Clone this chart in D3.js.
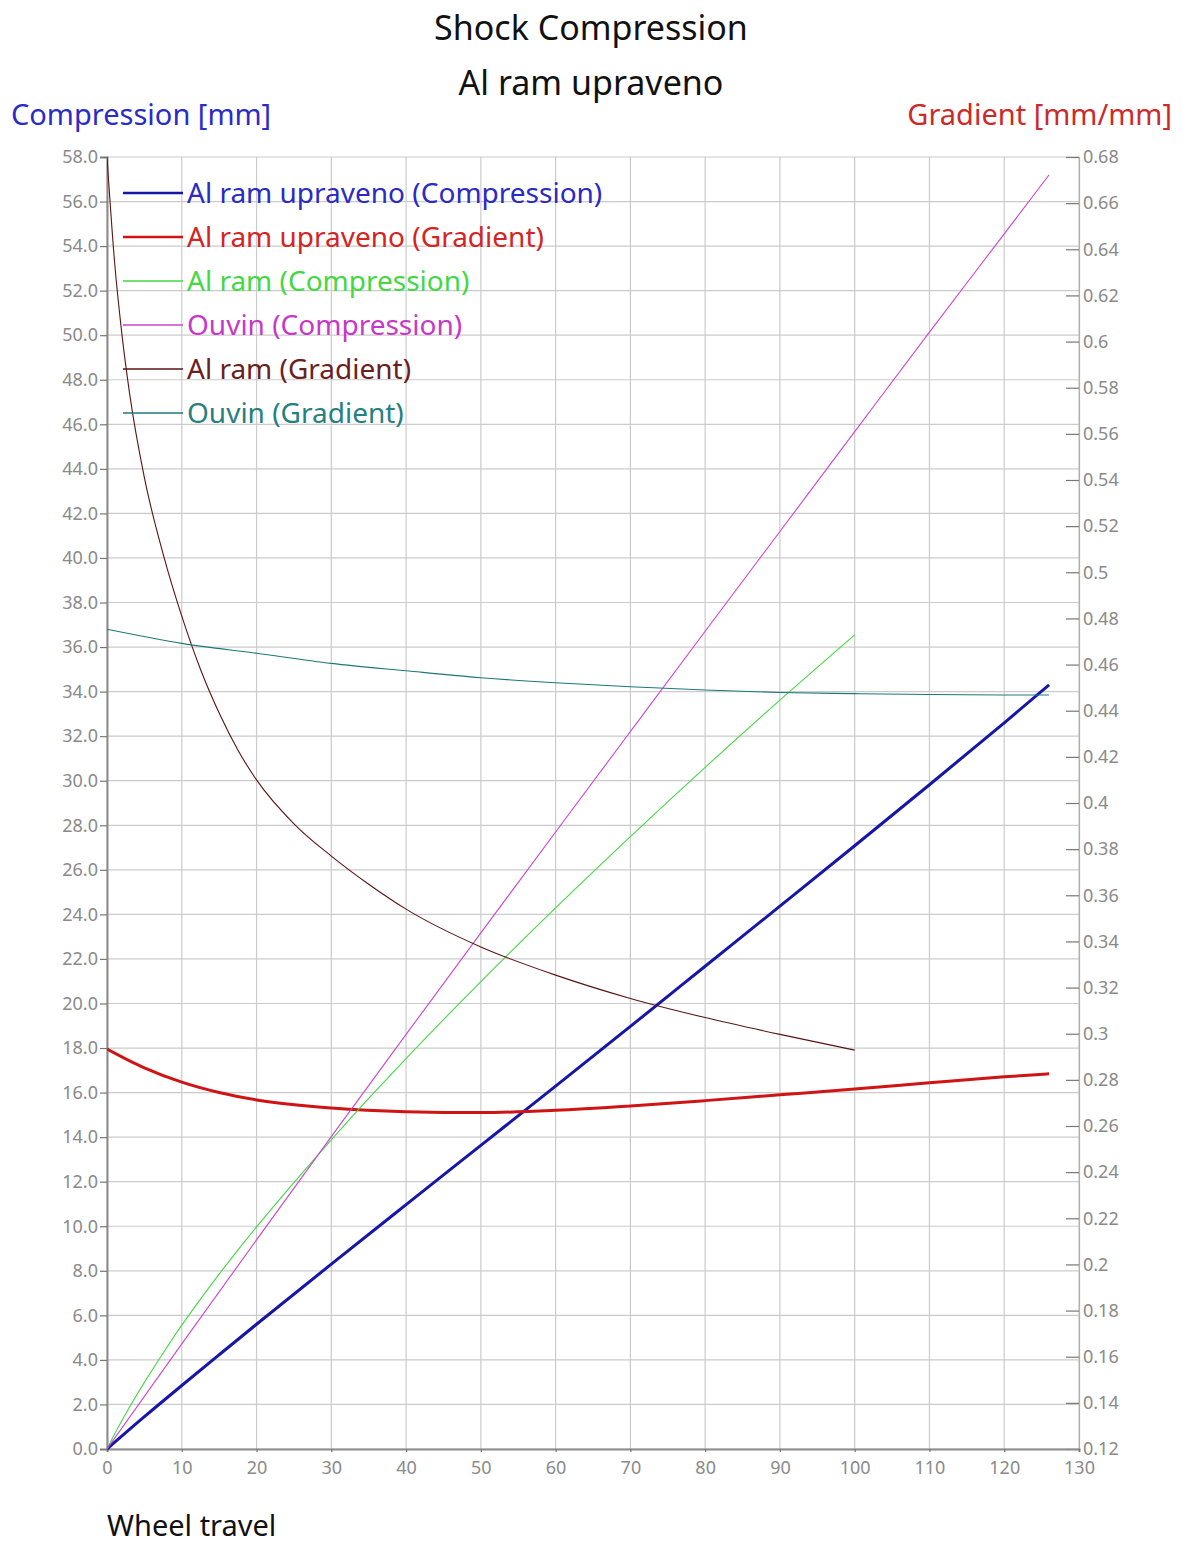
<!DOCTYPE html>
<html>
<head>
<meta charset="utf-8">
<script src="https://cdn.jsdelivr.net/npm/d3@7"></script>
<style>
  html, body { margin: 0; padding: 0; background: #ffffff; }
  svg { display: block; font-family: "Noto Sans", "Open Sans", sans-serif; }
</style>
</head>
<body>
<svg id="chart" width="1183" height="1547"></svg>
<script>
// Wheel travel positions for each data set
const travelUpraveno = [0, 5, 10, 15, 20, 30, 40, 50, 60, 70, 80, 90, 100, 110, 120, 126];
const travelRam = [0, 1, 2, 3, 5, 7.5, 10, 12.5, 15, 17.5, 20, 25, 30, 35, 40, 50, 60, 70, 80, 90, 100];
const travelOuvin = [0, 10, 20, 30, 40, 50, 60, 70, 80, 90, 100, 110, 120, 126];

// Shock compression [mm]
const compUpraveno = [0, 1.45, 2.85, 4.23, 5.6, 8.3, 10.97, 13.63, 16.29, 18.97, 21.67, 24.37, 27.08, 29.82, 32.6, 34.3];
const compRam = [0, 0.66, 1.28, 1.87, 2.99, 4.30, 5.56, 6.73, 7.85, 8.93, 9.97, 11.96, 13.88, 15.74, 17.53, 20.98, 24.29, 27.49, 30.6, 33.62, 36.55];
const compOuvin = [0, 4.72, 9.39, 14.02, 18.61, 23.17, 27.7, 32.21, 36.71, 41.19, 45.67, 50.14, 54.55, 57.2];

// Gradient of compression over wheel travel [mm/mm]
const gradUpraveno = [0.2934, 0.2852, 0.279, 0.2745, 0.2713, 0.2678, 0.2662, 0.2658, 0.2668, 0.2687, 0.271, 0.2735, 0.276, 0.2787, 0.2813, 0.2826];
const gradRam = [0.68, 0.635, 0.603, 0.578, 0.541, 0.508, 0.481, 0.458, 0.439, 0.423, 0.41, 0.391, 0.377, 0.3648, 0.354, 0.3376, 0.3254, 0.3153, 0.307, 0.2997, 0.2929];
const gradOuvin = [0.4753, 0.4692, 0.4649, 0.4605, 0.4573, 0.4543, 0.4521, 0.4504, 0.449, 0.4479, 0.4474, 0.447, 0.4468, 0.4468];

// Axis ticks
const xTicks = d3.range(0, 131, 10);
const leftTicks = d3.range(0, 30).map(i => i * 2);
const rightTicks = d3.range(6, 35).map(i => i / 50);

const titleText = "Shock Compression";
const subtitleText = "Al ram upraveno";

const series = [
  { name: "Al ram upraveno (Compression)", xs: travelUpraveno, ys: compUpraveno, axis: "left",  color: "#1616a8", text: "#2a2ac4", width: 3 },
  { name: "Al ram upraveno (Gradient)",    xs: travelUpraveno, ys: gradUpraveno, axis: "right", color: "#d01414", text: "#d42424", width: 3 },
  { name: "Al ram (Compression)",          xs: travelRam,      ys: compRam,      axis: "left",  color: "#44d844", text: "#44d844", width: 1.1 },
  { name: "Ouvin (Compression)",           xs: travelOuvin,    ys: compOuvin,    axis: "left",  color: "#cc44cc", text: "#c838c8", width: 1.1 },
  { name: "Al ram (Gradient)",             xs: travelRam,      ys: gradRam,      axis: "right", color: "#5a1414", text: "#6a2020", width: 1.1 },
  { name: "Ouvin (Gradient)",              xs: travelOuvin,    ys: gradOuvin,    axis: "right", color: "#1e7878", text: "#268080", width: 1.1 }
];

const svg = d3.select("#chart");
const plot = { left: 107, right: 1079, top: 157, bottom: 1449 };

const x = d3.scaleLinear().domain([0, 130]).range([plot.left, plot.right]);
const yLeft = d3.scaleLinear().domain([0, 58]).range([plot.bottom, plot.top]);
const yRight = d3.scaleLinear().domain([0.12, 0.68]).range([plot.bottom, plot.top]);

const gridColor = "#cbcbcb";
const axisColor = "#8c8c8c";
const labelColor = "#8a8a8a";

// Grid
const grid = svg.append("g");
grid.selectAll("line.h").data(leftTicks).join("line")
  .attr("x1", plot.left).attr("x2", plot.right)
  .attr("y1", d => yLeft(d)).attr("y2", d => yLeft(d))
  .attr("stroke", gridColor).attr("stroke-width", 1.2);
grid.selectAll("line.v").data(xTicks).join("line")
  .attr("x1", d => x(d)).attr("x2", d => x(d))
  .attr("y1", plot.top).attr("y2", plot.bottom)
  .attr("stroke", gridColor).attr("stroke-width", 1.2);

function styleAxis(g) {
  g.select(".domain").attr("stroke", axisColor).attr("stroke-width", 2);
  g.selectAll(".tick line").attr("stroke", "#777777").attr("stroke-width", 1.2);
  g.selectAll(".tick text").attr("fill", labelColor).style("font-size", "18px")
    .style("font-family", "\"Noto Sans\", sans-serif");
}

// Left axis: compression
svg.append("g").attr("transform", `translate(${plot.left},0)`)
  .call(d3.axisLeft(yLeft).tickValues(leftTicks).tickFormat(d3.format(".1f")).tickSizeOuter(0).tickSize(7).tickPadding(2))
  .call(styleAxis);

// Right axis: gradient, ticks pointing inward
svg.append("g").attr("transform", `translate(${plot.right},0)`)
  .call(d3.axisRight(yRight).tickValues(rightTicks).tickFormat(d => String(+d.toFixed(2))).tickSizeOuter(0).tickSize(-13).tickPadding(4))
  .call(styleAxis)
  .call(g => g.select(".domain").attr("stroke", "#b0b0b0").attr("stroke-width", 1.2));

// Bottom axis: wheel travel
svg.append("g").attr("transform", `translate(0,${plot.bottom})`)
  .call(d3.axisBottom(x).tickValues(xTicks).tickFormat(d3.format("d")).tickSizeOuter(0).tickSize(3).tickPadding(9))
  .call(styleAxis);

// Curves
svg.append("clipPath").attr("id", "plot-clip").append("rect")
  .attr("x", plot.left).attr("y", plot.top - 2)
  .attr("width", plot.right - plot.left).attr("height", plot.bottom - plot.top + 4);

const curves = svg.append("g").attr("clip-path", "url(#plot-clip)");
series.forEach(s => {
  const yScale = s.axis === "left" ? yLeft : yRight;
  const line = d3.line()
    .x((d, i) => x(s.xs[i]))
    .y(d => yScale(d))
    .curve(d3.curveMonotoneX);
  curves.append("path").datum(s.ys)
    .attr("d", line)
    .attr("fill", "none")
    .attr("stroke", s.color)
    .attr("stroke-width", s.width)
    .attr("stroke-linejoin", "round");
});

// Legend
const legend = svg.append("g");
series.forEach((s, i) => {
  const yy = 193 + i * 44;
  legend.append("line")
    .attr("x1", 123).attr("x2", 183).attr("y1", yy).attr("y2", yy)
    .attr("stroke", s.color).attr("stroke-width", s.width === 3 ? 2.6 : 1.4);
  legend.append("text")
    .attr("x", 187).attr("y", yy)
    .attr("dy", "0.35em")
    .attr("fill", s.text)
    .style("font-size", "28px")
    .text(s.name);
});

// Titles
svg.append("text").attr("x", 591).attr("y", 40).attr("text-anchor", "middle")
  .attr("fill", "#111111").style("font-size", "34px").text(titleText);
svg.append("text").attr("x", 591).attr("y", 95).attr("text-anchor", "middle")
  .attr("fill", "#111111").style("font-size", "34px").text(subtitleText);

svg.append("text").attr("x", 11).attr("y", 125)
  .attr("fill", "#2b2bc8").style("font-size", "29px").text("Compression [mm]");
svg.append("text").attr("x", 1172).attr("y", 125).attr("text-anchor", "end")
  .attr("fill", "#cc2a2a").style("font-size", "29px").text("Gradient [mm/mm]");

svg.append("text").attr("x", 107).attr("y", 1536)
  .attr("fill", "#111111").style("font-size", "29px").text("Wheel travel");
</script>
</body>
</html>
